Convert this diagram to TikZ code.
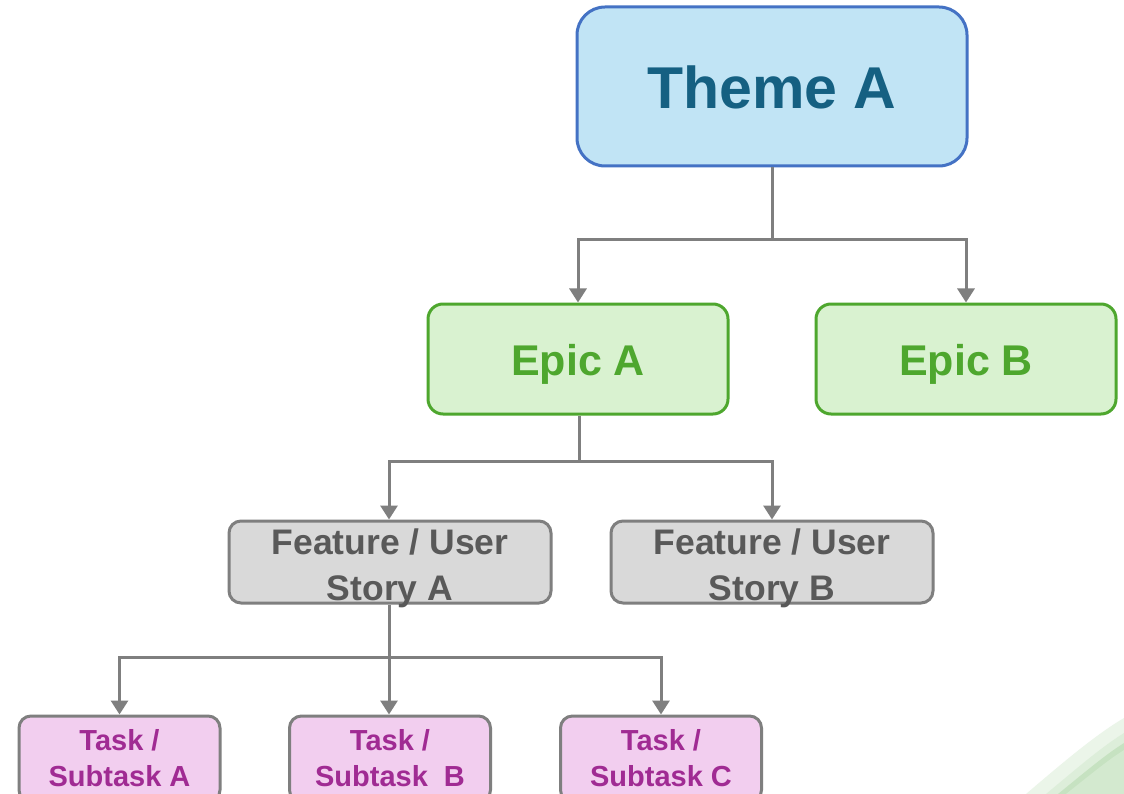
\documentclass[tikz,border=0pt]{standalone}
\usepackage{fontspec}
\setmainfont{Liberation Sans}
\usetikzlibrary{arrows.meta}

\definecolor{themefill}{HTML}{C1E4F5}
\definecolor{themeline}{HTML}{4472C4}
\definecolor{themetext}{HTML}{156082}
\definecolor{epicfill}{HTML}{D9F2D0}
\definecolor{epicline}{HTML}{4EA72E}
\definecolor{featfill}{HTML}{D9D9D9}
\definecolor{greyline}{HTML}{7F7F7F}
\definecolor{feattext}{HTML}{595959}
\definecolor{taskfill}{HTML}{F2CEEF}
\definecolor{tasktext}{HTML}{A02B93}
\definecolor{swooshA}{HTML}{EBF5E9}
\definecolor{swooshB}{HTML}{DDEEDA}
\definecolor{swooshC}{HTML}{C6E2C1}
\definecolor{swooshD}{HTML}{D3E9CF}

% text depth 0 and a fixed text height place the last baseline at a
% set distance below the centre of each box
\tikzset{
  box/.style={draw, line width=3pt, inner sep=0pt, align=center, text depth=0pt},
  themebox/.style={box, fill=themefill, draw=themeline, text=themetext,
    rounded corners=28pt, minimum width=390pt, minimum height=159pt,
    text height=45pt, font=\bfseries\fontsize{59}{62}\selectfont},
  epicbox/.style={box, fill=epicfill, draw=epicline, text=epicline,
    rounded corners=15pt, minimum width=300pt, minimum height=110pt,
    text height=33pt, font=\bfseries\fontsize{43}{48}\selectfont},
  featbox/.style={box, fill=featfill, draw=greyline, text=feattext,
    rounded corners=12pt, minimum width=322pt, minimum height=82pt,
    text height=76pt, font=\bfseries\fontsize{35.5}{46}\selectfont},
  taskbox/.style={box, fill=taskfill, draw=greyline, text=tasktext,
    rounded corners=12pt, minimum width=201pt, minimum height=86pt,
    text height=54pt, font=\bfseries\fontsize{29}{36}\selectfont},
  conn/.style={draw=greyline, line width=3pt},
  arr/.style={conn, -{Triangle[width=17pt,length=14pt]}},
}

\begin{document}
\begin{tikzpicture}[x=1pt,y=-1pt]
  \clip (0,0) rectangle (1124,794);
  \fill[white] (0,0) rectangle (1124,794);

  % decorative green bands in the lower right corner
  \fill[swooshA] (1026,794) .. controls (1060,765) and (1095,735) .. (1124,718) -- (1124,794) -- cycle;
  \fill[swooshB] (1046,794) .. controls (1075,770) and (1100,748) .. (1124,733) -- (1124,794) -- cycle;
  \fill[swooshC] (1058,794) .. controls (1085,772) and (1105,755) .. (1124,743) -- (1124,794) -- cycle;
  \fill[swooshD] (1066,794) .. controls (1090,775) and (1108,760) .. (1124,750) -- (1124,794) -- cycle;

  % hierarchy boxes
  \node[themebox] (theme) at (772,86.5) {Theme A};

  \node[epicbox] (epicA) at (578,359) {Epic A};
  \node[epicbox] (epicB) at (966,359) {Epic B};

  \node[featbox] (featA) at (390,562) {Feature / User\\Story A};
  \node[featbox] (featB) at (772,562) {Feature / User\\Story B};

  \node[taskbox] (taskA) at (119.5,759) {Task /\\Subtask A};
  \node[taskbox] (taskB) at (390,759) {Task /\\Subtask\ \ B};
  \node[taskbox] (taskC) at (661,759) {Task /\\Subtask C};

  % connector buses
  \coordinate (bus1) at (772,240);
  \coordinate (bus2) at (579,461);
  \coordinate (bus3) at (389,657);

  \draw[conn] (theme.south) -- (bus1);
  \draw[arr] (bus1) -| (epicA);
  \draw[arr] (bus1) -| (epicB);

  \draw[conn] (epicA.south -| bus2) -- (bus2);
  \draw[arr] (bus2) -| (featA.north -| bus3);
  \draw[arr] (bus2) -| (featB);

  \draw[conn] (featA.south -| bus3) -- (bus3);
  \draw[arr] (bus3) -| (taskA);
  \draw[arr] (bus3) -- (taskB.north -| bus3);
  \draw[arr] (bus3) -| (taskC);
\end{tikzpicture}
\end{document}
